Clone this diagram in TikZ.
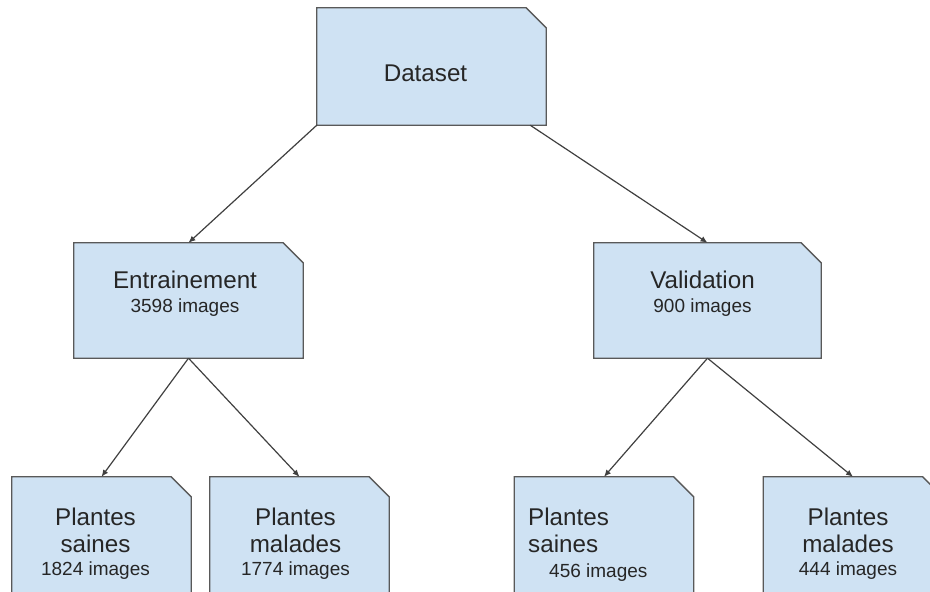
\documentclass[tikz,border=0pt]{standalone}
\usepackage{fontspec}
\setmainfont{Liberation Sans}
\usepackage{xcolor}
\usetikzlibrary{arrows.meta}
\definecolor{boxblue}{HTML}{CFE2F3}
\definecolor{boxedge}{HTML}{595959}
\definecolor{linkgray}{HTML}{404040}
\newcommand{\bigtxt}{\fontsize{24.2}{27}\selectfont}
\newcommand{\smalltxt}{\fontsize{19}{22}\selectfont}

\begin{document}
\begin{tikzpicture}[x=1pt, y=-1pt,
  box/.style={rectangle, minimum width=179pt, minimum height=120pt, inner sep=0pt},
  txt/.style={inner sep=0pt, text=black!85, font=\bigtxt, align=center, anchor=base},
  link/.style={draw=linkgray, line width=1.2pt, -{Latex[length=7pt,width=6pt]}}]
\useasboundingbox (0,0) rectangle (930,592);
\clip (0,0) rectangle (930,592);
% boxes
\node[box, minimum width=229pt, minimum height=117pt] (data) at (431.5,66.5) {};
\node[box, minimum width=229pt, minimum height=115pt] (train) at (188.5,300.5) {};
\node[box, minimum width=227pt, minimum height=115pt] (valid) at (707.5,300.5) {};
\node[box] (trainok) at (101.5,537) {};
\node[box] (trainsick) at (299.5,537) {};
\node[box] (validok) at (604,537) {};
\node[box] (validsick) at (853,537) {};
\foreach \n in {data,train,valid,trainok,trainsick,validok,validsick}
  \filldraw[fill=boxblue, draw=boxedge, line width=1.3pt] (\n.south west) -- (\n.north west)
    -- ([xshift=-20pt]\n.north east) -- ([yshift=-20pt]\n.north east) -- (\n.south east) -- cycle;
% texts (base = last line)
\node[txt] (datatxt) at (425.5,81) {Dataset};
\node[txt] (traintxt) at (185,312) {Entrainement\\[-3pt]{\smalltxt 3598 images}};
\node[txt] (validtxt) at (702.5,312) {Validation\\[-3pt]{\smalltxt 900 images}};
\node[txt] (trainoktxt) at (95.5,575) {Plantes\\saines\\[-4pt]{\smalltxt 1824 images}};
\node[txt] (trainsicktxt) at (295.5,575) {Plantes\\malades\\[-4pt]{\smalltxt 1774 images}};
\node[txt, align=left, anchor=base west] (validoktxt) at (528,577) {Plantes\\saines\\[-2pt]\hspace*{21pt}{\smalltxt 456 images}};
\node[txt] (validsicktxt) at (848,575) {Plantes\\malades\\[-4pt]{\smalltxt 444 images}};
% links
\draw[link] (data.south west) -- (train.north);
\draw[link] ([xshift=-16pt]data.south east) -- (valid.north);
\draw[link] (train.south) -- (trainok.north);
\draw[link] (train.south) -- (trainsick.north);
\draw[link] (valid.south) -- (validok.north);
\draw[link] (valid.south) -- (validsick.north);
\end{tikzpicture}
\end{document}
